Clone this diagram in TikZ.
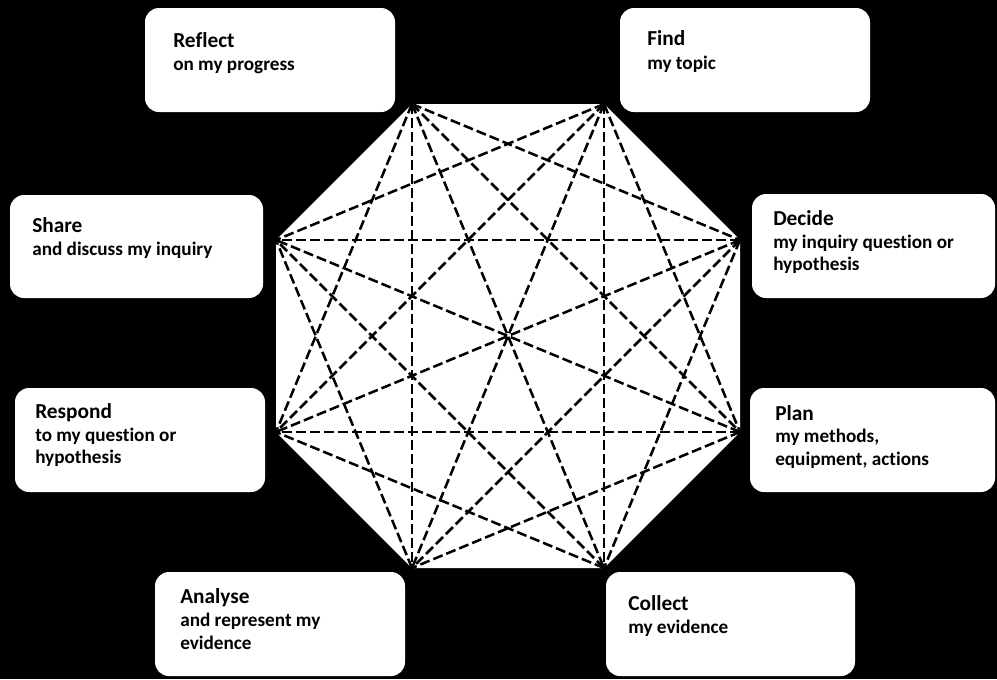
\documentclass[tikz,border=0pt]{standalone}
\usepackage{fontspec}
\setmainfont[Ligatures=NoCommon]{Carlito}
\begin{document}
\begin{tikzpicture}[x=0.75pt,y=-0.75pt,
  bx/.style 2 args={fill=white, draw=none, rounded corners=10.5pt, inner sep=0pt,
    minimum width=#1*0.75pt, minimum height=#2*0.75pt},
  ttl/.style={anchor=base west, inner sep=0pt, text=black,
    font=\fontsize{16}{18}\selectfont\bfseries},
  sub/.style={anchor=base west, inner sep=0pt, text=black,
    font=\fontsize{14.4}{17}\selectfont\bfseries},
  dia/.style={black, line width=1.9pt, dash pattern=on 7.5pt off 3pt}]
\fill[black] (0,0) rectangle (997,679);
\useasboundingbox (0,0) rectangle (997,679);
% octagon
\coordinate (v1) at (412,104);
\coordinate (v2) at (604,104);
\coordinate (v3) at (740,240);
\coordinate (v4) at (740,432);
\coordinate (v5) at (604,568);
\coordinate (v6) at (412,568);
\coordinate (v7) at (276,432);
\coordinate (v8) at (276,240);
\fill[white] (v1) -- (v2) -- (v3) -- (v4) -- (v5) -- (v6) -- (v7) -- (v8) -- cycle;
\foreach \a/\b in {1/3,1/4,1/5,1/6,1/7,2/4,2/5,2/6,2/7,2/8,3/5,3/6,3/7,3/8,4/6,4/7,4/8,5/7,5/8,6/8}
  \draw[dia] (v\a) -- (v\b);
% boxes
\node[bx={250}{104}] (reflect) at (270,60) {};
\node[bx={250}{104}] (find) at (745,60) {};
\node[bx={253}{103}] (share) at (136.5,246.5) {};
\node[bx={243}{104}] (decide) at (873.5,246) {};
\node[bx={250}{104}] (respond) at (140,440) {};
\node[bx={245}{104}] (plan) at (872.5,440) {};
\node[bx={250}{104}] (analyse) at (280,624) {};
\node[bx={249}{104}] (collect) at (730.5,624) {};
% texts
\node[ttl] (reflectT) at (173,47) {Reflect};
\node[sub] (reflectS) at (173,70) {on my progress};
\node[ttl] (findT) at (647,45) {Find};
\node[sub] (findS) at (647,69) {my topic};
\node[ttl] (shareT) at (32,232) {Share};
\node[sub] (shareS) at (32,255) {and discuss my inquiry};
\node[ttl] (decideT) at (773,225) {Decide};
\node[sub] (decideS1) at (773,248) {my inquiry question or};
\node[sub] (decideS2) at (773,270) {hypothesis};
\node[ttl] (respondT) at (35,418) {Respond};
\node[sub] (respondS1) at (35,441) {to my question or};
\node[sub] (respondS2) at (35,463) {hypothesis};
\node[ttl] (planT) at (775,420) {Plan};
\node[sub] (planS1) at (775,442) {my methods,};
\node[sub] (planS2) at (775,465) {equipment, actions};
\node[ttl] (analyseT) at (180,603) {Analyse};
\node[sub] (analyseS1) at (180,626) {and represent my};
\node[sub] (analyseS2) at (180,649) {evidence};
\node[ttl] (collectT) at (628,610) {Collect};
\node[sub] (collectS) at (628,633) {my evidence};
\end{tikzpicture}
\end{document}
